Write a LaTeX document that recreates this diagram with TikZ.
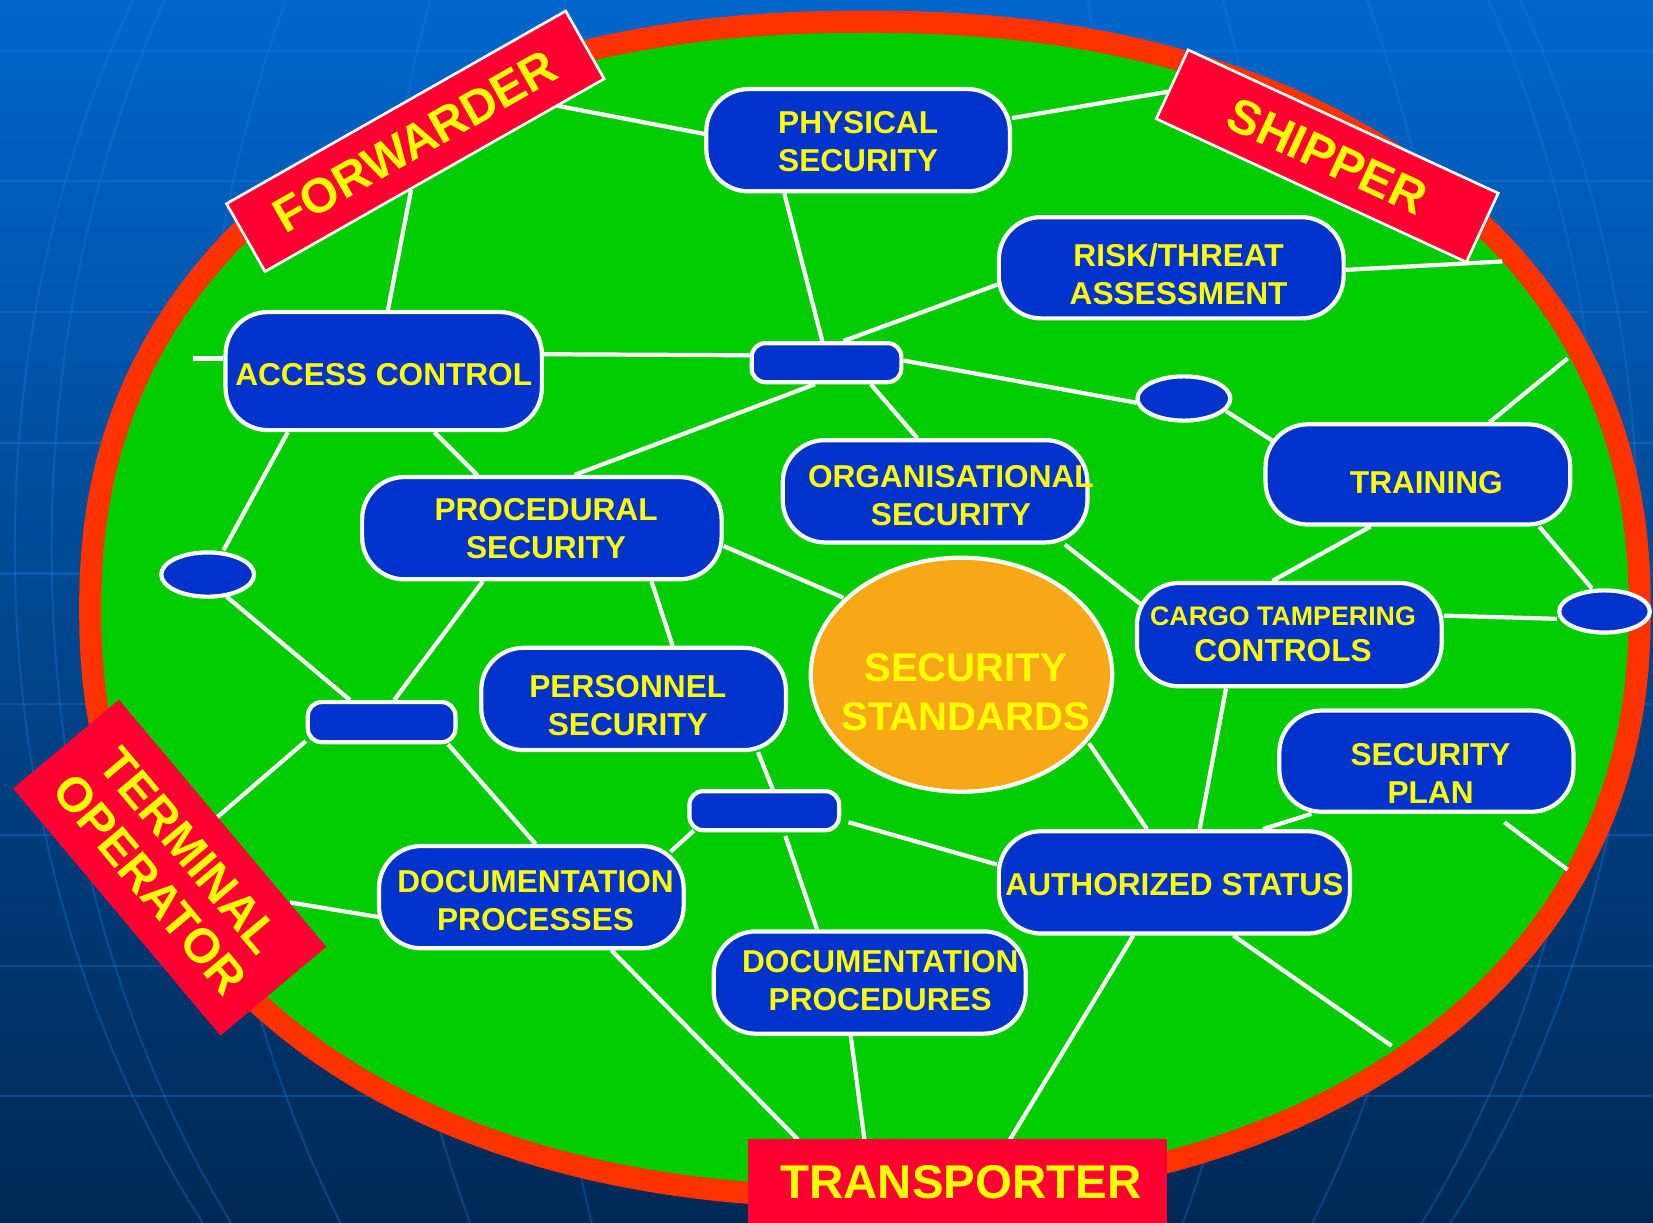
\documentclass[tikz,border=0pt]{standalone}
\usepackage{fontspec}
\setmainfont{Liberation Sans}
\usetikzlibrary{calc,shapes.geometric}
\definecolor{bgtop}{RGB}{0,102,204}
\definecolor{bgmid}{RGB}{0,80,160}
\definecolor{bgbot}{RGB}{0,40,84}
\definecolor{gridc}{RGB}{20,130,240}
\definecolor{ringred}{RGB}{255,51,0}
\definecolor{fieldgreen}{RGB}{0,204,0}
\definecolor{nodeblue}{RGB}{0,51,204}
\definecolor{txtyellow}{RGB}{255,255,0}
\definecolor{labelred}{RGB}{255,0,51}
\definecolor{stdorange}{RGB}{248,168,22}
\pgfdeclarelayer{bg}
\pgfdeclarelayer{edges}
\pgfsetlayers{bg,edges,main}
\newcommand{\pushgap}[1]{\rule{#1}{0pt}}
\tikzset{
  topic/.style={draw=white, line width=4pt, fill=nodeblue, rounded corners=40pt,
    minimum height=97pt, inner xsep=-20pt, inner ysep=0pt, text=txtyellow,
    font=\fontsize{30}{36}\selectfont\bfseries, align=center},
  two/.style={text height=57.5pt+2*#1, text depth=0pt},
  one/.style={text height=21.5pt+2*#1, text depth=0pt},
  hubbox/.style={draw=white, line width=4pt, fill=nodeblue, rounded corners=13pt,
    minimum width=142pt, minimum height=37pt, inner sep=0pt},
  hubell/.style={ellipse, draw=white, line width=4pt, fill=nodeblue,
    minimum width=88pt, minimum height=42pt, inner sep=0pt},
  party/.style={fill=labelred, text=txtyellow,
    font=\fontsize{46}{50}\selectfont\bfseries, align=center, inner sep=0pt},
  link/.style={draw=white, line width=4pt},
}
\begin{document}
\begin{tikzpicture}[x=1pt, y=-1pt]
\useasboundingbox (0,0) rectangle (1568,1160);

% ---------- nodes ----------
\node[topic, minimum width=288pt, two=1pt] (phys) at (814,133) {PHYSICAL\\SECURITY};
\node[topic, minimum width=327pt, minimum height=96pt, two=6pt] (risk) at (1111,254)
  {\pushgap{14pt}RISK/THREAT\\\pushgap{14pt}ASSESSMENT};
\node[topic, one=3pt, minimum width=300pt, minimum height=112pt] (acc) at (364,352) {ACCESS CONTROL};
\node[hubbox] (hub1) at (784,344) {};
\node[hubell] (e1) at (1123,378) {};
\node[topic, one=7pt, minimum width=289pt, minimum height=95pt] (train) at (1345,450)
  {\pushgap{16pt}TRAINING};
\node[topic, minimum width=289pt, two=4pt] (org) at (887,466)
  {\pushgap{30pt}ORGANISATIONAL\\\pushgap{30pt}SECURITY};
\node[topic, minimum width=341pt, two=0pt] (proc) at (514,501)
  {\pushgap{8pt}PROCEDURAL\\\pushgap{8pt}SECURITY};
\node[hubell] (e2) at (197,545) {};
\node[ellipse, draw=white, line width=4pt, fill=stdorange, minimum width=286pt,
      minimum height=222pt, inner sep=-22pt, text=txtyellow, align=center,
      font=\fontsize{38}{46}\selectfont\bfseries, text height=105pt, text depth=0pt]
  (std) at (912,640) {\pushgap{8pt}SECURITY\\\pushgap{8pt}STANDARDS};
\node[topic, minimum width=289pt, minimum height=98pt] (cargo) at (1223,602)
  {{\fontsize{25.4}{30}\selectfont CARGO TAMPERING\pushgap{12pt}}\\[-2pt]CONTROLS\pushgap{12pt}};
\node[hubell, minimum width=86pt, minimum height=40pt] (e3) at (1522,580) {};
\node[topic, minimum width=289pt, two=6pt] (pers) at (601,663)
  {PERSONNEL\pushgap{11pt}\\SECURITY\pushgap{11pt}};
\node[hubbox, minimum width=140pt, minimum height=38pt] (hub2) at (362,685) {};
\node[topic, minimum width=279pt, minimum height=96pt, two=11pt] (plan) at (1353,722)
  {\pushgap{8pt}SECURITY\\\pushgap{8pt}PLAN};
\node[hubbox] (hub3) at (725,769) {};
\node[topic, one=2pt, minimum width=333pt] (auth) at (1114,837) {AUTHORIZED STATUS};
\node[topic, minimum width=289pt, two=3pt] (docp) at (504,851)
  {\pushgap{8pt}DOCUMENTATION\\\pushgap{8pt}PROCESSES};
\node[topic, minimum width=296pt, two=-2pt] (docr) at (825,932)
  {\pushgap{20pt}DOCUMENTATION\\\pushgap{20pt}PROCEDURES};

\node[party, draw=white, line width=2.5pt, rotate=29.6, minimum width=370pt, minimum height=74pt]
  (fwd) at (394,134) {FORWARDER};
\node[party, draw=white, line width=2.5pt, rotate=-24.8, minimum width=324pt, minimum height=72pt]
  (ship) at (1259,148) {SHIPPER};
\node[party, rotate=-50, minimum width=306pt, minimum height=131pt]
  (term) at (161,823) {TERMINAL\\OPERATOR};
\node[party, font=\fontsize{45}{50}\selectfont\bfseries, minimum width=397pt, minimum height=82pt]
  (trans) at (908.5,1121.5) {\pushgap{6pt}TRANSPORTER};

\coordinate (rf) at (1425,248);
\coordinate (rg) at (183,340);
\coordinate (rk) at (1487,340);
\coordinate (raa) at (1487,825);
\coordinate (rll) at (1320,992);

% ---------- background ----------
\begin{pgfonlayer}{bg}
\shade[top color=bgtop, middle color=bgmid, bottom color=bgbot] (0,0) rectangle (1568,1160);
\begin{scope}
\clip (0,0) rectangle (1568,1160);
\begin{scope}[draw=gridc, opacity=0.3, line width=2pt]
\foreach \yy in {48,172,296,420,544,668,792,916,1040}
  \draw (0,\yy) -- (1568,\yy);
\foreach \rx in {770,735,600,440,290}
  \draw (784,520) ellipse [x radius=\rx, y radius=1000];
\end{scope}
\end{scope}
\filldraw[fill=fieldgreen, draw=ringred, line width=21pt]
  plot[domain=0.5:360.5, samples=181]
  ({820.5+735*cos(\x)*abs(cos(\x))^(-0.0909)}, {578+557.5*sin(\x)*abs(sin(\x))^(-0.0909)}) -- cycle;
\end{pgfonlayer}

% ---------- connectors ----------
\begin{pgfonlayer}{edges}
\draw[link] ($(fwd)+(133,-34)$) -- ($(phys)+(-146,-6)$);
\draw[link] ($(phys)+(146,-21)$) -- ($(ship)+(-151,-61)$);
\draw[link] ($(fwd)+(-4,46)$) -- ($(acc)+(4,-58)$);
\draw[link] ($(phys)+(-70,50.5)$) -- ($(hub1)+(-4,-20.5)$);
\draw[link] ($(risk)+(-165,16)$) -- ($(hub1)+(16,-20.5)$);
\draw[link] ($(risk)+(165.5,2)$) -- (rf);
\draw[link] ($(acc)+(-152,-12)$) -- (rg);
\draw[link] ($(acc)+(152,-16)$) -- ($(hub1)+(-73,-7)$);
\draw[link] ($(hub1)+(73,-2)$) -- ($(e1)+(-45,4)$);
\draw[link] ($(e1)+(40,12)$) -- ($(train)+(-138,-32)$);
\draw[link] ($(train)+(68,-49.5)$) -- (rk);
\draw[link] ($(hub1)+(42,20.5)$) -- ($(org)+(-17,-50.5)$);
\draw[link] ($(hub1)+(-11,20.5)$) -- ($(proc)+(31,-50.5)$);
\draw[link] ($(acc)+(48,58)$) -- ($(proc)+(-61,-50)$);
\draw[link] ($(acc)+(-91,58)$) -- ($(e2)+(15,-23)$);
\draw[link] ($(e2)+(18,21)$) -- ($(hub2)+(-30,-21)$);
\draw[link] ($(proc)+(-56,50.5)$) -- ($(hub2)+(12,-21)$);
\draw[link] ($(proc)+(172.5,17)$) -- ($(std)+(-112,-73)$);
\draw[link] ($(proc)+(104,50.5)$) -- ($(pers)+(37,-50.5)$);
\draw[link] ($(org)+(123,50.5)$) -- ($(cargo)+(-141,-29)$);
\draw[link] ($(train)+(-45,49.5)$) -- ($(cargo)+(-16,-51)$);
\draw[link] ($(train)+(115,49.5)$) -- ($(e3)+(-12,-22)$);
\draw[link] ($(cargo)+(146.5,-18)$) -- ($(e3)+(-45,7)$);
\draw[link] ($(cargo)+(-60,51)$) -- ($(auth)+(24,-50.5)$);
\draw[link] ($(std)+(121,65)$) -- ($(auth)+(-26,-50.5)$);
\draw[link] ($(plan)+(-109,50)$) -- ($(auth)+(84,-50.5)$);
\draw[link] ($(plan)+(74,58)$) -- (raa);
\draw[link] ($(hub2)+(-72,18)$) -- ($(term)+(44,-47)$);
\draw[link] ($(hub2)+(63,21)$) -- ($(docp)+(4,-50.5)$);
\draw[link] ($(pers)+(118,50.5)$) -- ($(hub3)+(8,-20.5)$);
\draw[link] ($(hub3)+(-67,19)$) -- ($(docp)+(132,-43)$);
\draw[link] ($(hub3)+(20,24)$) -- ($(docr)+(-50,-50.5)$);
\draw[link] ($(hub3)+(80,11)$) -- ($(auth)+(-168.5,-17)$);
\draw[link] ($(term)+(114,33)$) -- ($(docp)+(-144,19)$);
\draw[link] ($(docp)+(76,50.5)$) -- ($(trans)+(-151.5,-40.5)$);
\draw[link] ($(docr)+(-18,50.5)$) -- ($(trans)+(-88.5,-40.5)$);
\draw[link] ($(auth)+(-39,50.5)$) -- ($(trans)+(49.5,-40.5)$);
\draw[link] ($(auth)+(56,50.5)$) -- (rll);
\end{pgfonlayer}
\end{tikzpicture}
\end{document}
